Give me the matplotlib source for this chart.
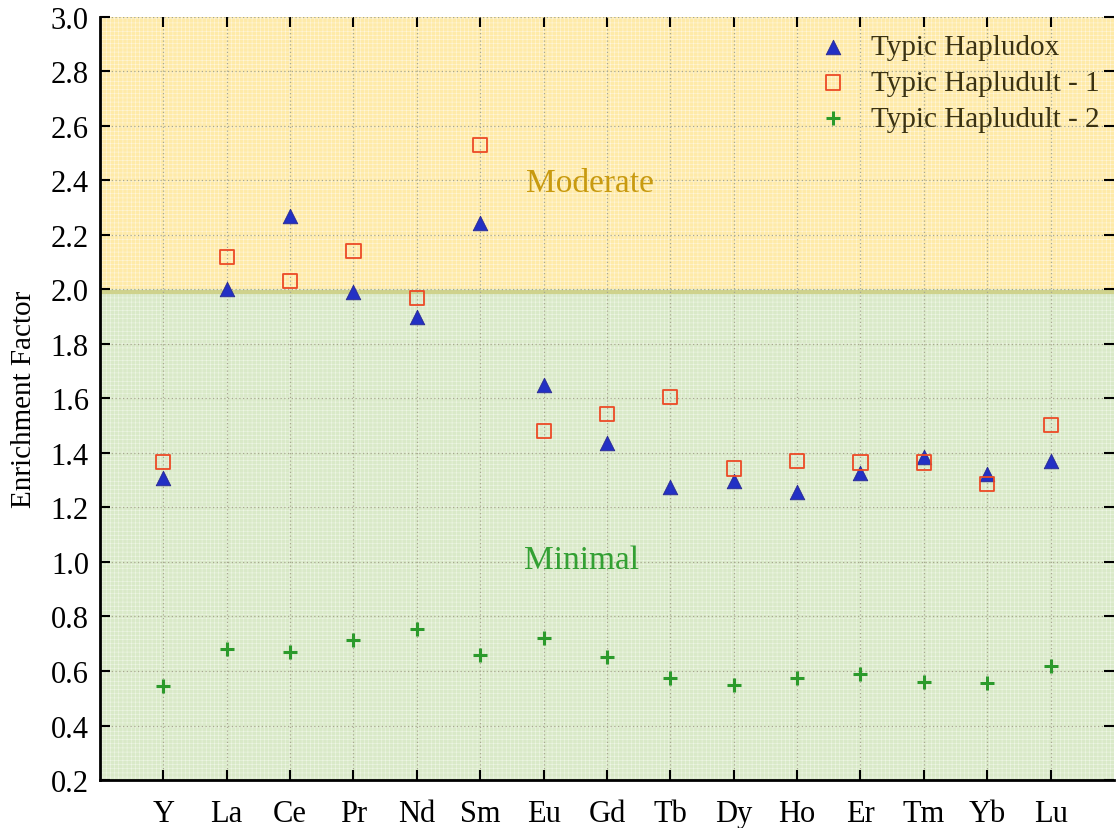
import matplotlib.pyplot as plt
import numpy as np

plt.rcParams['font.family'] = ['Liberation Serif', 'DejaVu Serif']
plt.rcParams['hatch.linewidth'] = 0.4

elements = ['Y', 'La', 'Ce', 'Pr', 'Nd', 'Sm', 'Eu', 'Gd', 'Tb', 'Dy', 'Ho', 'Er', 'Tm', 'Yb', 'Lu']
hapludox = [1.31, 2.00, 2.27, 1.99, 1.90, 2.245, 1.65, 1.435, 1.275, 1.297, 1.257, 1.325, 1.385, 1.322, 1.37]
hapludult1 = [1.367, 2.12, 2.03, 2.14, 1.97, 2.53, 1.48, 1.543, 1.605, 1.343, 1.37, 1.365, 1.365, 1.286, 1.503]
hapludult2 = [0.545, 0.68, 0.67, 0.714, 0.754, 0.659, 0.72, 0.652, 0.574, 0.549, 0.574, 0.589, 0.56, 0.557, 0.618]

x = np.arange(1, len(elements) + 1)

fig = plt.figure(figsize=(11.16, 8.29), dpi=100)
ax = fig.add_axes([0.0896, 0.0579, 0.9086, 0.9204])

# background zones
ax.axhspan(2.0, 3.0, facecolor='#feeaa8', edgecolor='#fff6dc', hatch='++++', lw=0, zorder=0)
ax.axhspan(0.2, 2.0, facecolor='#d9e9c8', edgecolor='#eef6e6', hatch='++++', lw=0, zorder=0)
ax.axhline(1.99, color='#cfd28c', lw=3, zorder=0.5)

ax.grid(True, color='#a8a890', ls=(0, (1, 2)), lw=0.9, zorder=1)
ax.set_axisbelow(True)

ax.scatter(x, hapludox, marker='^', s=110, color='#2330c4', edgecolors='#2a2a90', lw=0.6,
           zorder=3, label='Typic Hapludox')
ax.scatter(x, hapludult1, marker='s', s=105, facecolors='none', edgecolors='#ec4a26', lw=1.3,
           zorder=4, label='Typic Hapludult - 1')
ax.scatter(x, hapludult2, marker='+', s=110, color='#2b9a2b', lw=2.2, zorder=3,
           label='Typic Hapludult - 2')

ax.text(7.73, 2.39, 'Moderate', color='#c89a10', fontsize=24, ha='center', va='center')
ax.text(7.6, 1.01, 'Minimal', color='#33a033', fontsize=24, ha='center', va='center')

ax.set_xlim(0, 16)
ax.set_ylim(0.2, 3.0)
ax.set_xticks(x)
ax.set_xticklabels(elements)
ax.set_yticks(np.arange(0.2, 3.01, 0.2))
ax.set_yticklabels(['%.1f' % v for v in np.arange(0.2, 3.01, 0.2)])
ax.tick_params(axis='both', direction='in', length=7, width=1.5, labelsize=22,
               top=True, right=True)
ax.tick_params(axis='x', pad=14)
ax.tick_params(axis='y', pad=8)
ax.set_ylabel('Enrichment Factor', fontsize=21, labelpad=10)

for s in ['left', 'bottom']:
    ax.spines[s].set_linewidth(2)
for s in ['top', 'right']:
    ax.spines[s].set_visible(False)

leg = ax.legend(loc='upper right', bbox_to_anchor=(1.012, 1.012), frameon=False,
                fontsize=21, handletextpad=0.3, labelspacing=0.32, scatterpoints=1)
for t in leg.get_texts():
    t.set_color('#3a3212')

fig.savefig('out.png', dpi=100)
